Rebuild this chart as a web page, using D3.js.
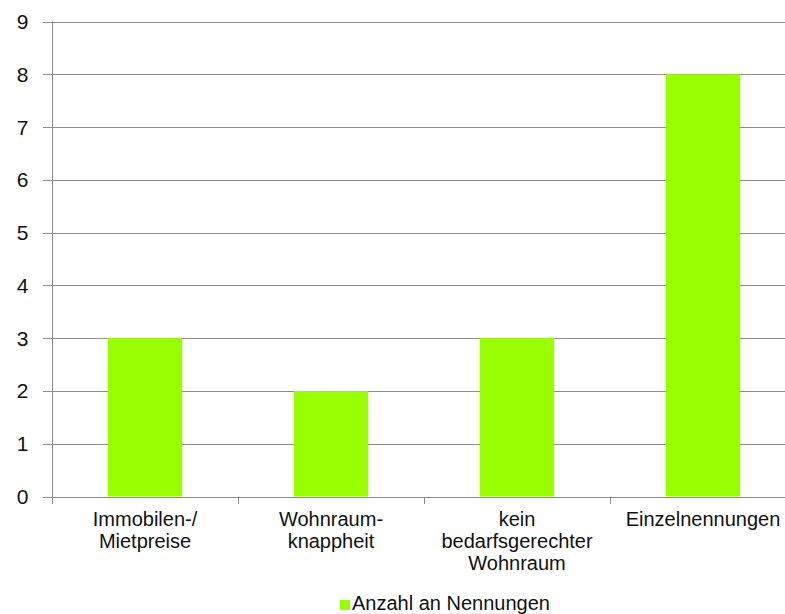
<!DOCTYPE html>
<html>
<head>
<meta charset="utf-8">
<script src="https://cdn.jsdelivr.net/npm/d3@7"></script>
<style>
  body { margin: 0; background: #fff; }
  svg { display: block; font-family: "Liberation Sans", Arial, sans-serif; }
</style>
</head>
<body>
<div id="chart"></div>
<script>
const categories = [
  ['Immobilen-/', 'Mietpreise'],
  ['Wohnraum-', 'knappheit'],
  ['kein', 'bedarfsgerechter', 'Wohnraum'],
  ['Einzelnennungen']
],
  values = [3, 2, 3, 8],
  yTicks = [0, 1, 2, 3, 4, 5, 6, 7, 8, 9],
  seriesName = 'Anzahl an Nennungen'

const width = 785, height = 614,
  plot = { left: 52, right: 796, top: 21.5, bottom: 496.5 },
  barColour = '#99ff00',
  gridColour = '#8c8c8c'

const svg = d3.select('#chart')
  .append('svg')
    .attr('width', width)
    .attr('height', height)

const x = d3.scaleBand()
    .domain(d3.range(categories.length))
    .range([plot.left, plot.right])
    .paddingInner(0.6)
    .paddingOuter(0.3),
  y = d3.scaleLinear()
    .domain([0, 9])
    .range([plot.bottom, plot.top])

// gridlines + y ticks
svg.append('g')
  .selectAll('line')
  .data(yTicks)
  .enter()
  .append('line')
    .attr('x1', plot.left - 9)
    .attr('x2', plot.right)
    .attr('y1', d => Math.round(y(d)) + 0.5)
    .attr('y2', d => Math.round(y(d)) + 0.5)
    .attr('stroke', gridColour)
    .attr('stroke-width', 1)

svg.append('g')
  .selectAll('text')
  .data(yTicks)
  .enter()
  .append('text')
    .attr('x', 28.5)
    .attr('y', d => y(d) + 7.5)
    .attr('text-anchor', 'end')
    .attr('font-size', 21)
    .attr('fill', '#111')
    .text(d => d)

// bars
svg.append('g')
  .selectAll('rect')
  .data(values)
  .enter()
  .append('rect')
    .attr('x', (d, i) => x(i))
    .attr('y', d => y(d))
    .attr('width', x.bandwidth())
    .attr('height', d => y(0) - y(d))
    .attr('fill', barColour)

// axes lines
svg.append('line')
  .attr('x1', plot.left + 0.5).attr('x2', plot.left + 0.5)
  .attr('y1', plot.top).attr('y2', Math.round(y(0)) + 0.5)
  .attr('stroke', gridColour)

svg.append('g')
  .selectAll('line')
  .data(d3.range(categories.length + 1))
  .enter()
  .append('line')
    .attr('x1', i => Math.round(plot.left + i * x.step()) + 0.5)
    .attr('x2', i => Math.round(plot.left + i * x.step()) + 0.5)
    .attr('y1', Math.round(y(0)))
    .attr('y2', Math.round(y(0)) + 7)
    .attr('stroke', gridColour)

// category labels
const labels = svg.append('g')
  .selectAll('text')
  .data(categories)
  .enter()
  .append('text')
    .attr('text-anchor', 'middle')
    .attr('font-size', 20)
    .attr('fill', '#111')
    .attr('transform', (d, i) => `translate(${x(i) + x.bandwidth() / 2},526)`)
labels.selectAll('tspan')
  .data(d => d)
  .enter()
  .append('tspan')
    .attr('x', 0)
    .attr('y', (d, i) => i * 22)
    .text(d => d)

// legend
const legend = svg.append('g')
  .attr('transform', 'translate(340,600)')
legend.append('rect')
  .attr('width', 10)
  .attr('height', 10)
  .attr('fill', barColour)
legend.append('text')
  .attr('x', 12)
  .attr('y', 9.5)
  .attr('font-size', 20)
  .attr('fill', '#111')
  .text(seriesName)
</script>
</body>
</html>
